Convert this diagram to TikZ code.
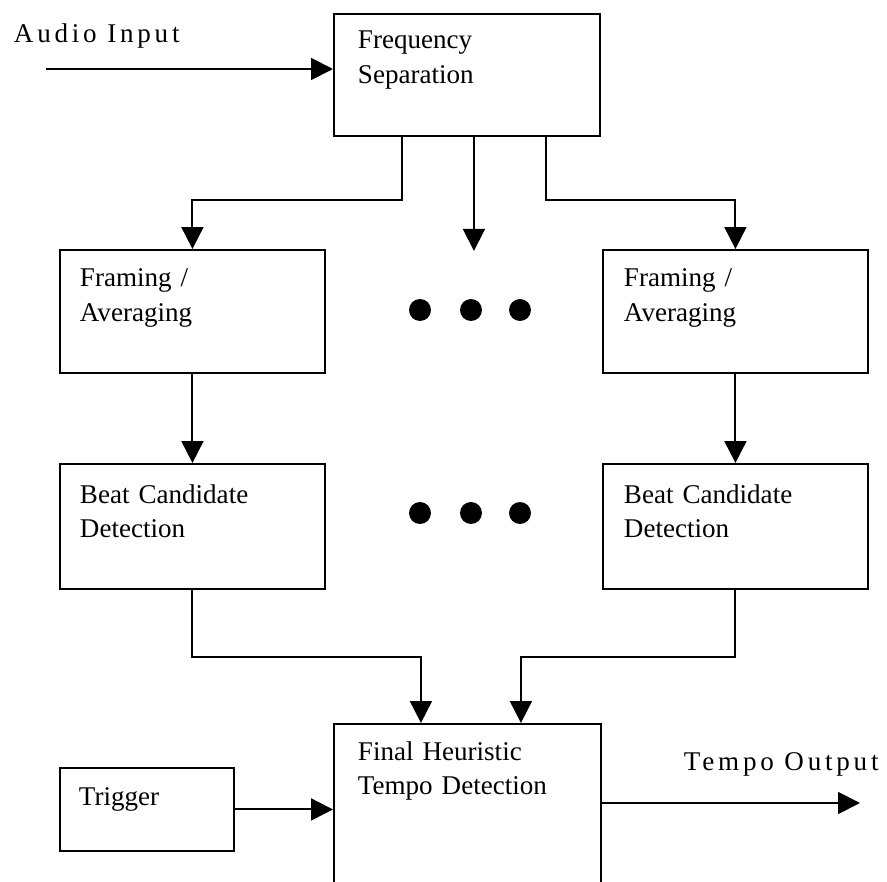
\documentclass[tikz,border=0pt]{standalone}
\usepackage{fontspec}
\setmainfont{Liberation Serif}
\newfontfamily\spacedfont[LetterSpace=14]{Liberation Serif}
\usepackage{tikz}
\usetikzlibrary{arrows.meta,positioning,calc}

\begin{document}
\begin{tikzpicture}[x=0.02cm,y=-0.02cm,line width=1.1pt,
  font=\fontsize{15.4}{19.4}\selectfont,
  block/.style={draw,anchor=north west,inner sep=0pt},
  caption/.style={anchor=base west,inner sep=0pt,align=left,text width=4.8cm},
  tag/.style={anchor=base west,inner sep=0pt,font=\spacedfont\fontsize{15.4}{19.4}\selectfont},
  arr/.style={-{Triangle[length=0.44cm,width=0.44cm]}}]
  \useasboundingbox (0,0) rectangle (887,882);
  % blocks
  \node[block,minimum width=5.32cm,minimum height=2.44cm] (fsep) at (333,13) {};
  \node[block,minimum width=5.3cm,minimum height=2.46cm] (fa1) at (59,249) {};
  \node[block,minimum width=5.3cm,minimum height=2.46cm] (fa2) at (602,249) {};
  \node[block,minimum width=5.3cm,minimum height=2.5cm] (bc1) at (59,463) {};
  \node[block,minimum width=5.3cm,minimum height=2.5cm] (bc2) at (602,463) {};
  \node[block,minimum width=5.34cm,minimum height=3.54cm] (final) at (333,723) {};
  \node[block,minimum width=3.48cm,minimum height=1.66cm] (trig) at (59,767) {};
  % block texts
  \node[caption] (fsep text) at ($(fsep.north west)+(24,36)$) {Frequency\\Separation};
  \node[caption] (fa1 text) at ($(fa1.north west)+(20,38)$) {Framing /\\Averaging};
  \node[caption] (fa2 text) at ($(fa2.north west)+(21,38)$) {Framing /\\Averaging};
  \node[caption] (bc1 text) at ($(bc1.north west)+(20,40)$) {Beat Candidate\\Detection};
  \node[caption] (bc2 text) at ($(bc2.north west)+(21,40)$) {Beat Candidate\\Detection};
  \node[caption] (final text) at ($(final.north west)+(24,37)$) {Final Heuristic\\Tempo Detection};
  \node[caption] (trig text) at ($(trig.north west)+(19,38)$) {Trigger};
  % input and output
  \node[tag] (ain label) at (13,43) {Audio Input};
  \node[tag] (tout label) at (683,770) {Tempo Output};
  \coordinate (ain) at (46,69);
  \coordinate (tout) at (860,803);
  \draw[arr] (ain) -- (ain -| fsep.west);
  \draw[arr] (tout -| final.east) -- (tout);
  % frequency bands
  \draw[arr] ([xshift=1.38cm]fsep.south west) -- ++(0,63) -| (fa1.north);
  \draw[arr] ([xshift=0.14cm]fsep.south) -- ++(0,114);
  \draw[arr] ([xshift=-1.1cm]fsep.south east) -- ++(0,63) -| (fa2.north);
  \draw[arr] (fa1) -- (bc1);
  \draw[arr] (fa2) -- (bc2);
  \draw[arr] (bc1.south) -- ++(0,67) -| ([xshift=-0.93cm]final.north);
  \draw[arr] (bc2.south) -- ++(0,67) -| ([xshift=1.07cm]final.north);
  \draw[arr] (trig) -- (trig -| final.west);
  % more bands
  \foreach \x in {420,471,520} {
    \fill (\x,310) circle[radius=0.22cm];
    \fill (\x,513) circle[radius=0.22cm];
  }
\end{tikzpicture}
\end{document}
